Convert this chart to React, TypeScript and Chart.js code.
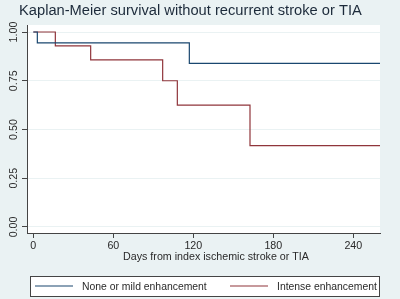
import React, { useEffect, useRef } from "react";
import { Chart, registerables } from "chart.js";

Chart.register(...registerables);

const titleText = "Kaplan-Meier survival without recurrent stroke or TIA";
const xAxisTitle = "Days from index ischemic stroke or TIA";
const seriesNames = ["None or mild enhancement", "Intense enhancement"];
const seriesColors = ["#1a476f", "#90353b"];

const xTicks = [0, 60, 120, 180, 240];
const yTicks = [0, 0.25, 0.5, 0.75, 1];

const noneDays = [0, 3, 117, 260];
const noneSurv = [1, 0.944, 0.839, 0.839];

const intenseDays = [0, 16.5, 43, 97, 108, 162.5, 260];
const intenseSurv = [1, 0.929, 0.857, 0.75, 0.625, 0.417, 0.417];

const FONT = 'Arial, "Liberation Sans", Helvetica, sans-serif';
const BG = "#eaf2f3";
const TEXT = "#2a2a2a";

export default function App() {
  const ref = useRef<HTMLCanvasElement | null>(null);

  useEffect(() => {
    const canvas = ref.current;
    if (!canvas) return;

    const decor = {
      id: "decor",
      beforeDraw(chart: any) {
        const { ctx, chartArea } = chart;
        ctx.save();
        ctx.fillStyle = BG;
        ctx.fillRect(0, 0, chart.width, chart.height);
        ctx.fillStyle = "#ffffff";
        ctx.fillRect(chartArea.left, chartArea.top, chartArea.right - chartArea.left, chartArea.bottom - chartArea.top);
        ctx.restore();
      },
      afterDraw(chart: any) {
        const { ctx } = chart;
        ctx.save();
        // title
        ctx.fillStyle = "#1c2a3a";
        ctx.font = `14.7px ${FONT}`;
        ctx.textBaseline = "alphabetic";
        ctx.textAlign = "left";
        ctx.fillText(titleText, 19, 15);

        // y tick labels rotated
        const ys = chart.scales.y;
        ctx.font = `10.7px ${FONT}`;
        ctx.fillStyle = TEXT;
        ys.ticks.forEach((t: any) => {
          const py = ys.getPixelForValue(t.value);
          ctx.save();
          ctx.translate(17, py);
          ctx.rotate(-Math.PI / 2);
          ctx.textAlign = "center";
          ctx.textBaseline = "alphabetic";
          ctx.fillText(Number(t.value).toFixed(2), 0, 0);
          ctx.restore();
        });

        // x axis title
        ctx.textAlign = "center";
        ctx.textBaseline = "alphabetic";
        ctx.fillText(xAxisTitle, 216, 260);

        // legend
        ctx.fillStyle = "#ffffff";
        ctx.fillRect(30, 276, 349, 20);
        ctx.strokeStyle = "#444";
        ctx.lineWidth = 1;
        ctx.strokeRect(30.5, 276.5, 349, 20);
        ctx.font = `10.4px ${FONT}`;
        const entries = [
          { x0: 35, x1: 73, tx: 82 },
          { x0: 230, x1: 268, tx: 277 },
        ];
        entries.forEach((e, i) => {
          ctx.strokeStyle = seriesColors[i];
          ctx.lineWidth = 1.2;
          ctx.beginPath();
          ctx.moveTo(e.x0, 286);
          ctx.lineTo(e.x1, 286);
          ctx.stroke();
          ctx.fillStyle = TEXT;
          ctx.textAlign = "left";
          ctx.fillText(seriesNames[i], e.tx, 290);
        });
        ctx.restore();
      },
    };

    const chart = new Chart(canvas, {
      type: "line",
      data: {
        datasets: [
          {
            label: seriesNames[0],
            data: noneDays.map((d, i) => ({ x: d, y: noneSurv[i] })),
            borderColor: seriesColors[0],
            borderWidth: 1.2,
            pointRadius: 0,
            stepped: true,
            fill: false,
          },
          {
            label: seriesNames[1],
            data: intenseDays.map((d, i) => ({ x: d, y: intenseSurv[i] })),
            borderColor: seriesColors[1],
            borderWidth: 1.2,
            pointRadius: 0,
            stepped: true,
            fill: false,
          },
        ],
      },
      options: {
        animation: false,
        responsive: false,
        devicePixelRatio: 1,
        layout: { padding: { left: 0, right: 20, top: 25, bottom: 44 } },
        plugins: {
          legend: { display: false },
          title: { display: false },
          tooltip: { enabled: false },
        },
        scales: {
          x: {
            type: "linear",
            min: -4.75,
            max: 260,
            afterBuildTicks: (s: any) => {
              s.ticks = xTicks.map((v) => ({ value: v }));
            },
            afterFit: (s: any) => {
              s.height = 22;
            },
            ticks: {
              font: { size: 10.7, family: FONT },
              color: TEXT,
              padding: 2,
              maxRotation: 0,
              minRotation: 0,
            },
            grid: {
              drawOnChartArea: false,
              drawTicks: true,
              tickLength: 5,
              tickColor: "#444",
            },
            border: { display: true, color: "#444", width: 1 },
          },
          y: {
            type: "linear",
            min: -0.031,
            max: 1.036,
            afterBuildTicks: (s: any) => {
              s.ticks = yTicks.map((v) => ({ value: v }));
            },
            afterFit: (s: any) => {
              s.width = 27;
            },
            ticks: { display: false },
            grid: {
              drawOnChartArea: true,
              color: "#eaf2f3",
              drawTicks: true,
              tickLength: 5,
              tickColor: "#444",
            },
            border: { display: true, color: "#444", width: 1 },
          },
        },
      },
      plugins: [decor],
    });

    return () => chart.destroy();
  }, []);

  return (
    <div style={{ position: "fixed", left: 0, top: 0, width: 400, height: 299 }}>
      <canvas ref={ref} width={400} height={299} style={{ display: "block", width: 400, height: 299 }} />
    </div>
  );
}
